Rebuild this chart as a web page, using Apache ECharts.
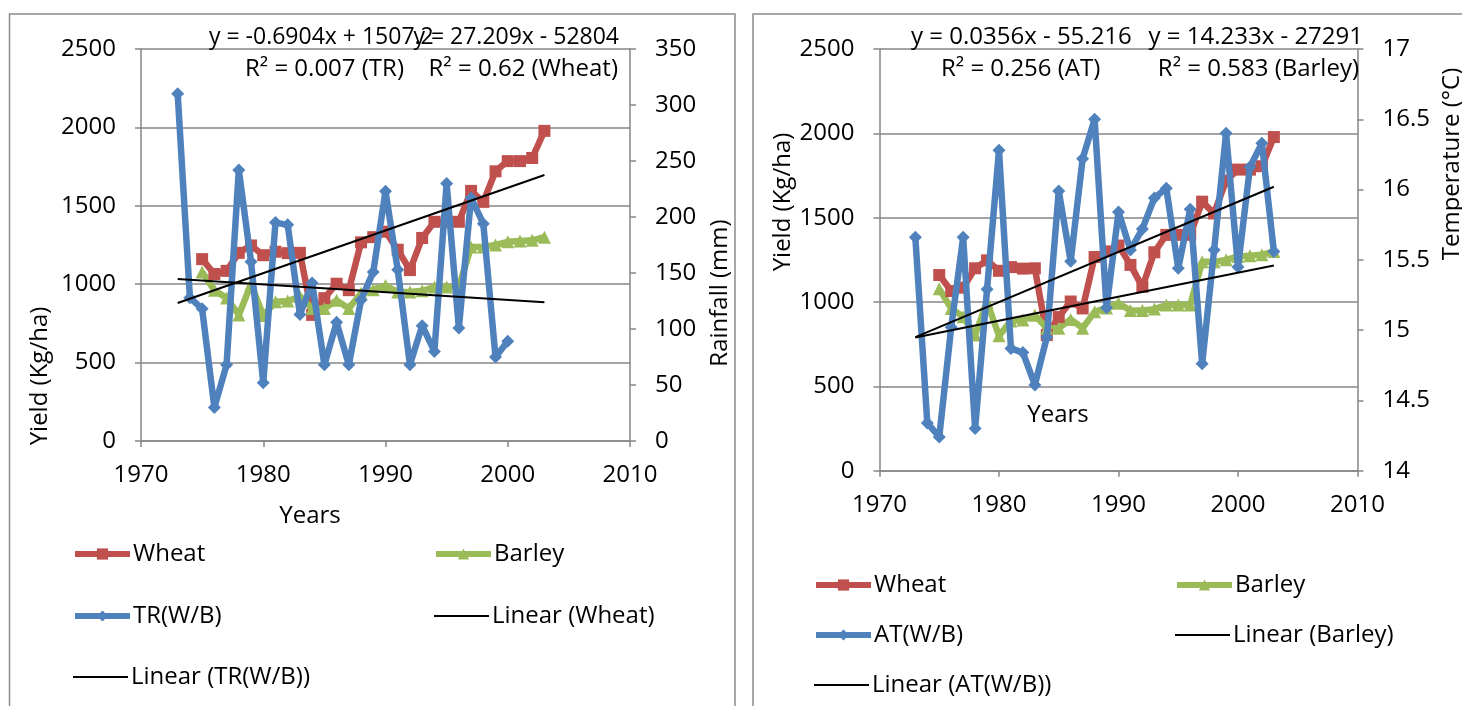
<!DOCTYPE html>
<html>
<head>
<meta charset="utf-8">
<script src="https://cdn.jsdelivr.net/npm/echarts@6/dist/echarts.min.js"></script>
<style>
html, body { margin: 0; padding: 0; background: #fff; }
#chart { width: 1462px; height: 706px; }
</style>
</head>
<body>
<div id="chart"></div>
<script>
// yield years (wheat / barley)
var yieldYears = [1975, 1976, 1977, 1978, 1979, 1980, 1981, 1982, 1983, 1984, 1985, 1986, 1987, 1988, 1989,
    1990, 1991, 1992, 1993, 1994, 1995, 1996, 1997, 1998, 1999, 2000, 2001, 2002, 2003];
var wheatYield = [1160, 1065, 1085, 1200, 1247, 1185, 1207, 1198, 1200, 804, 911, 1003, 962, 1267, 1300,
    1335, 1220, 1090, 1295, 1398, 1398, 1398, 1595, 1525, 1720, 1785, 1785, 1805, 1978];
var barleyYield = [1078, 962, 912, 804, 1000, 800, 888, 893, 922, 845, 845, 897, 845, 942, 965,
    992, 950, 950, 958, 982, 982, 982, 1238, 1238, 1250, 1270, 1275, 1280, 1300];

// total rainfall (mm)
var trYears = [1973, 1974, 1975, 1976, 1977, 1978, 1979, 1980, 1981, 1982, 1983, 1984, 1985, 1986,
    1987, 1988, 1989, 1990, 1991, 1992, 1993, 1994, 1995, 1996, 1997, 1998, 1999, 2000];
var trRain = [310, 128, 118, 30, 68, 242, 160, 52, 195, 193, 113, 141, 68, 106,
    68, 126, 151, 223, 153, 68, 103, 80, 230, 101, 217, 194, 75, 89];

// average temperature (oC)
var atYears = [1973, 1974, 1975, 1976, 1977, 1978, 1979, 1980, 1981, 1982, 1983, 1984, 1985, 1986, 1987, 1988,
    1989, 1990, 1991, 1992, 1993, 1994, 1995, 1996, 1997, 1998, 1999, 2000, 2001, 2002, 2003];
var atTemp = [15.66, 14.34, 14.24, 15.02, 15.66, 14.30, 15.29, 16.28, 14.87, 14.84, 14.61, 14.95, 15.99, 15.49, 16.22, 16.50,
    15.16, 15.84, 15.57, 15.72, 15.94, 16.01, 15.44, 15.86, 14.76, 15.57, 16.40, 15.45, 16.16, 16.33, 15.56];

// trend line end points
var wheatTrend = [[1973, 880], [2003, 1696]];
var trTrend = [[1973, 144.6], [2003, 123.9]];
var barleyTrend = [[1973, 790], [2003, 1216]];
var atTrend = [[1973, 14.95], [2003, 16.02]];

var yieldTicks = { min: 0, max: 2500, interval: 500 };
var rainTicks = { min: 0, max: 350, interval: 50 };
var tempTicks = { min: 14, max: 17, interval: 0.5 };
var yearTicks = { min: 1970, max: 2010, interval: 10 };

var FONT = 'Open Sans';
var FS = 24;
var GREY = '#868686';
var RED = '#C0504D', GREEN = '#9BBB59', BLUE = '#4F81BD';

function pairs(xs, ys) {
    return xs.map(function (x, i) { return [x, ys[i]]; });
}

function xAx(grid) {
    return {
        type: 'value', gridIndex: grid, min: yearTicks.min, max: yearTicks.max, interval: yearTicks.interval,
        axisLine: { show: true, lineStyle: { color: GREY, width: 1.5 } },
        axisTick: { show: true, length: 6, lineStyle: { color: GREY, width: 1.5 } },
        axisLabel: { fontSize: FS, fontFamily: FONT, color: '#000', margin: 22, formatter: function (v) { return String(v); } },
        splitLine: { show: false }
    };
}

function yAx(grid, pos, t, split) {
    return {
        type: 'value', gridIndex: grid, position: pos, min: t.min, max: t.max, interval: t.interval,
        axisLine: { show: true, lineStyle: { color: GREY, width: 1.5 } },
        axisTick: { show: true, length: 6, lineStyle: { color: GREY, width: 1.5 } },
        axisLabel: { fontSize: FS, fontFamily: FONT, color: '#000', margin: 25, formatter: function (v) { return String(v); } },
        splitLine: { show: split, lineStyle: { color: GREY, width: 1.6 } }
    };
}

function dataLine(name, xi, yi, data, color, symbol, size, z) {
    return {
        name: name, type: 'line', xAxisIndex: xi, yAxisIndex: yi, data: data,
        symbol: symbol, symbolSize: size, showSymbol: true, z: z,
        lineStyle: { color: color, width: 6.5 },
        itemStyle: { color: color },
        animation: false
    };
}

function trendLine(name, xi, yi, data) {
    return {
        name: name, type: 'line', xAxisIndex: xi, yAxisIndex: yi, data: data,
        symbol: 'none', z: 5,
        lineStyle: { color: '#000', width: 2 },
        itemStyle: { color: '#000' },
        animation: false
    };
}

function leg(name, x, y, plain) {
    var item = plain ? { name: name, itemStyle: { opacity: 0 } } : name;
    return {
        data: [item], left: x, top: y - 13, selectedMode: false,
        itemWidth: 55, itemHeight: 14, itemGap: 0, padding: 0,
        lineStyle: { width: plain ? 2 : 6 },
        textStyle: { fontSize: FS, fontFamily: FONT, color: '#000', padding: [0, 0, 0, -2] }
    };
}

function txt(s, x, y, align, rot, size) {
    return {
        type: 'text', x: x, y: y, rotation: rot || 0, z: 10,
        style: { text: s, font: (size || FS) + 'px "' + FONT + '"', fill: '#000', textAlign: align || 'left', textVerticalAlign: 'middle' }
    };
}

var chart = echarts.init(document.getElementById('chart'));

chart.setOption({
    backgroundColor: '#fff',
    animation: false,
    grid: [
        { left: 141, top: 49, width: 489, height: 392 },
        { left: 879.5, top: 49, width: 478, height: 421.7 }
    ],
    xAxis: [xAx(0), xAx(1)],
    yAxis: [
        yAx(0, 'left', yieldTicks, true),
        yAx(0, 'right', rainTicks, false),
        yAx(1, 'left', yieldTicks, true),
        yAx(1, 'right', tempTicks, false)
    ],
    legend: [
        leg('Wheat', 72, 555), leg('Barley', 433, 555),
        leg('TR(W/B)', 72, 617), leg('Linear (Wheat)', 433, 617, true),
        leg('Linear (TR(W/B))', 72, 678, true),
        leg('Wheat', 813, 586), leg('Barley', 1174, 586),
        leg('AT(W/B)', 813, 636), leg('Linear (Barley)', 1174, 636, true),
        leg('Linear (AT(W/B))', 813, 686, true)
    ],
    series: [
        dataLine('Wheat', 0, 0, pairs(yieldYears, wheatYield), RED, 'rect', 12, 2),
        dataLine('Barley', 0, 0, pairs(yieldYears, barleyYield), GREEN, 'triangle', 13, 2),
        dataLine('TR(W/B)', 0, 1, pairs(trYears, trRain), BLUE, 'diamond', 13, 3),
        trendLine('Linear (Wheat)', 0, 0, wheatTrend),
        trendLine('Linear (TR(W/B))', 0, 1, trTrend),

        dataLine('Wheat', 1, 2, pairs(yieldYears, wheatYield), RED, 'rect', 12, 2),
        dataLine('Barley', 1, 2, pairs(yieldYears, barleyYield), GREEN, 'triangle', 13, 2),
        dataLine('AT(W/B)', 1, 3, pairs(atYears, atTemp), BLUE, 'diamond', 13, 3),
        trendLine('Linear (Barley)', 1, 2, barleyTrend),
        trendLine('Linear (AT(W/B))', 1, 3, atTrend)
    ],
    graphic: [
        { type: 'rect', shape: { x: 9.5, y: 14, width: 725.5, height: 720 }, style: { fill: 'none', stroke: '#8c8c8c', lineWidth: 1.5 } },
        { type: 'rect', shape: { x: 753, y: 14, width: 760, height: 720 }, style: { fill: 'none', stroke: '#8c8c8c', lineWidth: 1.5 } },

        txt('y = -0.6904x + 1507.2', 209, 37, 'left', 0, 23),
        txt('y = 27.209x - 52804', 619, 37, 'right', 0, 23),
        txt('R² = 0.007 (TR)', 245, 69, 'left'),
        txt('R² = 0.62 (Wheat)', 618, 69, 'right'),
        txt('y = 0.0356x - 55.216', 911, 37, 'left'),
        txt('y = 14.233x - 27291', 1363, 37, 'right'),
        txt('R² = 0.256 (AT)', 941, 69, 'left'),
        txt('R² = 0.583 (Barley)', 1359, 69, 'right'),

        txt('Years', 310, 516, 'center'),
        txt('Years', 1058, 415, 'center'),
        txt('Yield (Kg/ha)', 40, 376, 'center', Math.PI / 2),
        txt('Rainfall (mm)', 720, 293, 'center', Math.PI / 2),
        txt('Yield (Kg/ha)', 783, 202, 'center', Math.PI / 2),
        txt('Temperature (°C)', 1452, 164, 'center', Math.PI / 2)
    ]
});
</script>
</body>
</html>
